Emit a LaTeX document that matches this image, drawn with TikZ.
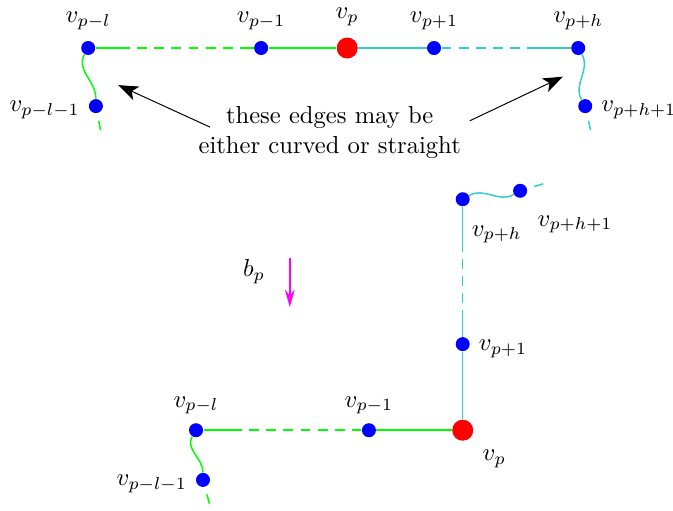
\documentclass[tikz,border=0pt]{standalone}
\usepackage{tikz}
\usetikzlibrary{arrows.meta}
\definecolor{tq}{rgb}{0.2,0.8,0.8}
\definecolor{mag}{rgb}{1,0,1}
\definecolor{grn}{rgb}{0,1,0}
\tikzset{
  vtx/.style={circle, fill=blue, inner sep=0pt, minimum size=0.2cm},
  pivot/.style={circle, fill=red, inner sep=0pt, minimum size=0.3cm},
  gedge/.style={grn, semithick},
  cedge/.style={tq, semithick},
  dsh/.style={dash pattern=on 4pt off 3pt},
  stub/.style={dash pattern=on 4pt off 30pt, dash phase=-3pt},
  arr/.style={-{Stealth[length=8pt, width=6pt, inset=2pt]}},
  push/.style={-{Stealth[length=7pt, width=4pt]}, thick, mag}
}
\begin{document}
\begin{tikzpicture}
\useasboundingbox (0,0) rectangle (9.614,7.286);
% upper chain
\node[vtx, label={[yshift=1pt]above:$v_{p-l}$}] (vpl) at (1.26,6.6) {};
\node[vtx, label={[yshift=1pt]above:$v_{p-1}$}] (vpm) at (3.73,6.6) {};
\node[pivot, label={[label distance=1pt]above:$v_p$}] (vp) at (4.96,6.6) {};
\node[vtx, label={[yshift=1pt]above:$v_{p+1}$}] (vpp) at (6.2,6.6) {};
\node[vtx, label={[yshift=1pt]above:$v_{p+h}$}] (vph) at (8.26,6.6) {};
\node[vtx, label={[yshift=-1.5pt]left:$v_{p-l-1}$}] (vplm) at (1.37,5.77) {};
\node[vtx, label={[yshift=-1.5pt]right:$v_{p+h+1}$}] (vphp) at (8.36,5.77) {};
\coordinate (g1) at (1.71,6.6);
\coordinate (g2) at (3.53,6.6);
\coordinate (c1) at (7.53,6.6);
\coordinate (gs) at (1.44,5.41);
\coordinate (cs) at (8.44,5.41);
\draw[gedge] (vpl) -- (g1);
\draw[gedge, dsh] (g1) -- (g2);
\draw[gedge] (g2) -- (vpm) -- (vp);
\draw[cedge] (vp) -- (vpp);
\draw[cedge, dsh] (vpp) -- (c1);
\draw[cedge] (c1) -- (vph);
\draw[gedge] (vpl) to[out=-120, in=90] (vplm);
\draw[gedge, stub] (vplm) -- (gs);
\draw[cedge] (vph) to[out=-60, in=120] (vphp);
\draw[cedge, stub] (vphp) -- (cs);
\node[align=center] (txt) at (4.71,5.39) {these edges may be\\either curved or straight};
\coordinate (la) at (3.0,5.47);
\coordinate (lh) at (1.69,6.07);
\coordinate (ra) at (6.71,5.56);
\coordinate (rh) at (8.04,6.19);
\draw[arr] (la) -- (lh);
\draw[arr] (ra) -- (rh);
% lower chain
\node[vtx, label=above:$v_{p-l}$] (bvpl) at (2.8,1.14) {};
\node[vtx, label=above:$v_{p-1}$] (bvpm) at (5.27,1.14) {};
\node[pivot, label={[label distance=2pt]below right:$v_p$}] (bvp) at (6.61,1.14) {};
\node[vtx, label={[yshift=-1.5pt]left:$v_{p-l-1}$}] (bvplm) at (2.9,0.43) {};
\node[vtx, label={[yshift=-2pt]right:$v_{p+1}$}] (bvpp) at (6.61,2.37) {};
\node[vtx, label={[xshift=-2pt, yshift=-5pt]below right:$v_{p+h}$}] (bvph) at (6.61,4.44) {};
\node[vtx, label={[label distance=2pt, yshift=-3pt]below right:$v_{p+h+1}$}] (bvphp) at (7.43,4.56) {};
\coordinate (h1) at (3.31,1.14);
\coordinate (h2) at (5.07,1.14);
\coordinate (k1) at (6.61,2.71);
\coordinate (k2) at (6.61,3.69);
\coordinate (hs) at (3.0,0.06);
\coordinate (ks) at (7.76,4.66);
\draw[gedge] (bvpl) -- (h1);
\draw[gedge, dsh] (h1) -- (h2);
\draw[gedge] (h2) -- (bvpm) -- (bvp);
\draw[cedge] (bvp) -- (bvpp) -- (k1);
\draw[cedge, dsh] (k1) -- (k2);
\draw[cedge] (k2) -- (bvph);
\draw[gedge] (bvpl) to[out=-120, in=90] (bvplm);
\draw[gedge, stub] (bvplm) -- (hs);
\draw[cedge] (bvph) to[out=30, in=-150] (bvphp);
\draw[cedge, stub] (bvphp) -- (ks);
\node (bp) at (3.63,3.41) {$b_p$};
\coordinate (bt) at (4.14,3.6);
\coordinate (bh) at (4.14,2.9);
\draw[push] (bt) -- (bh);
\end{tikzpicture}
\end{document}
